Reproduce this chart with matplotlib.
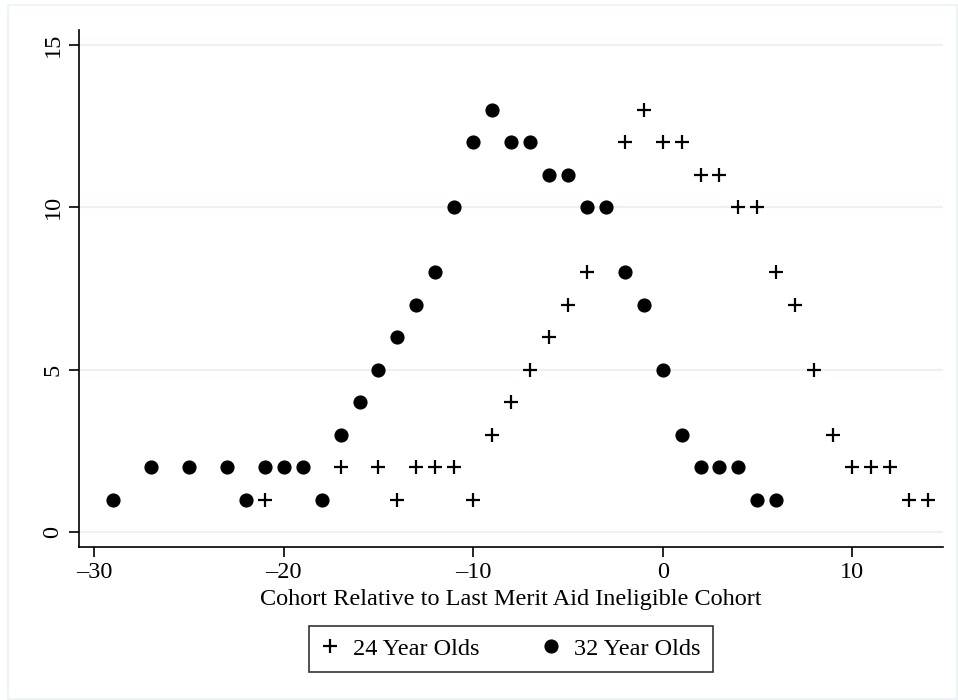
import matplotlib
matplotlib.use("Agg")
import matplotlib.pyplot as plt
from matplotlib.patches import Rectangle

plt.rcParams['font.family'] = ['Liberation Serif', 'DejaVu Serif']

# 32 year olds (dots)
x32 = [-29, -27, -25, -23, -22, -21, -20, -19, -18, -17, -16, -15, -14, -13,
       -12, -11, -10, -9, -8, -7, -6, -5, -4, -3, -2, -1, 0, 1, 2, 3, 4, 5, 6]
y32 = [1, 2, 2, 2, 1, 2, 2, 2, 1, 3, 4, 5, 6, 7,
       8, 10, 12, 13, 12, 12, 11, 11, 10, 10, 8, 7, 5, 3, 2, 2, 2, 1, 1]

# 24 year olds (plus)
x24 = [-21, -17, -15, -14, -13, -12, -11, -10, -9, -8, -7, -6, -5, -4,
       -2, -1, 0, 1, 2, 3, 4, 5, 6, 7, 8, 9, 10, 11, 12, 13, 14]
y24 = [1, 2, 2, 1, 2, 2, 2, 1, 3, 4, 5, 6, 7, 8,
       12, 13, 12, 12, 11, 11, 10, 10, 8, 7, 5, 3, 2, 2, 2, 1, 1]

xticks = [-30, -20, -10, 0, 10]
yticks = [0, 5, 10, 15]

fig = plt.figure(figsize=(9.58, 7.0), dpi=100)
fig.patches.append(Rectangle((8/958, 0.002), 949/958, 1 - 5/700 - 0.002,
                             transform=fig.transFigure, fill=False,
                             edgecolor='#eaf2f3', linewidth=1.2))
ax = fig.add_axes([0.0822, 0.219, 0.9018, 0.738])

ax.plot(x24, y24, linestyle='none', marker='+', markersize=9.5, markeredgewidth=1.6,
        color='black', label='24 Year Olds')
ax.plot(x32, y32, linestyle='none', marker='o', markersize=9.2,
        color='black', label='32 Year Olds')

ax.set_xlim(-30.82, 14.78)
ax.set_ylim(-0.45, 15.46)
ax.set_xticks(xticks)
ax.set_yticks(yticks)
ax.set_xticklabels([str(t).replace('-', '\u2013') for t in xticks])
ax.set_yticklabels([str(t) for t in yticks], rotation=90, va='center')
for y in yticks:
    ax.axhline(y, color='#eaf2f3', linewidth=1.5, zorder=0)

ax.spines['top'].set_visible(False)
ax.spines['right'].set_visible(False)
ax.spines['left'].set_linewidth(1.2)
ax.spines['bottom'].set_linewidth(1.2)
ax.tick_params(direction='out', length=7, width=1.2, labelsize=17.5, pad=4)
ax.set_xlabel('Cohort Relative to Last Merit Aid Ineligible Cohort', fontsize=17.5, labelpad=4)

leg = ax.legend(loc='upper center', bbox_to_anchor=(0.5, -0.153), ncol=2,
                fontsize=17.5, frameon=True, fancybox=False, handlelength=0.7,
                handletextpad=0.6, columnspacing=2.6, borderpad=0.5, borderaxespad=0)
leg.get_frame().set_edgecolor('black')
leg.get_frame().set_linewidth(1.2)

fig.savefig('out.png', dpi=100)
